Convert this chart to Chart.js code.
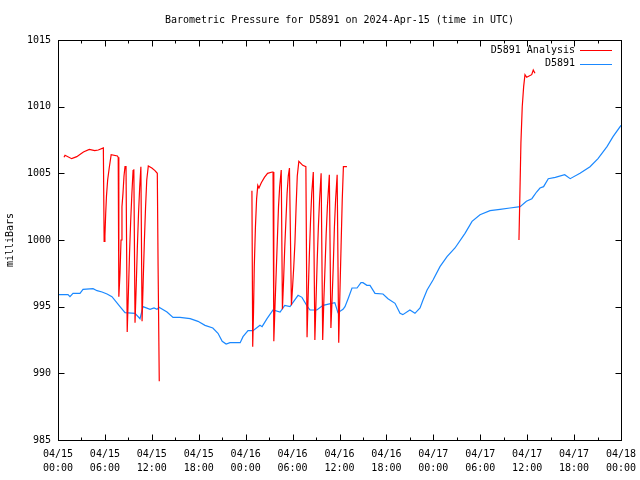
<!DOCTYPE html>
<html>
<head>
<meta charset="utf-8">
<script src="https://cdn.jsdelivr.net/npm/chart.js@4.4.1/dist/chart.umd.min.js"></script>
<style>
  body { margin: 0; background: #fff; }
  canvas { display: block; }
</style>
</head>
<body>
<canvas id="pressureChart" width="640" height="480"></canvas>
<script>
// hours since 2024-04-15 00:00 UTC
const chartTitle = 'Barometric Pressure for D5891 on 2024-Apr-15 (time in UTC)';
const tickLabels = [
    ['04/15', '00:00'], ['04/15', '06:00'], ['04/15', '12:00'], ['04/15', '18:00'],
    ['04/16', '00:00'], ['04/16', '06:00'], ['04/16', '12:00'], ['04/16', '18:00'],
    ['04/17', '00:00'], ['04/17', '06:00'], ['04/17', '12:00'], ['04/17', '18:00'],
    ['04/18', '00:00']
];

const buoyHours = [0, 0.77, 1.28, 1.53, 1.92, 2.81, 3.2, 4.48, 5.0, 5.63, 6.27, 6.9, 7.93, 8.57, 9.85,
    10.49, 10.87, 11.77, 12.28, 12.66, 12.92, 13.94, 14.71, 15.6, 16.9, 17.9, 18.8, 19.8, 20.46, 21.0,
    21.5, 22.0, 23.3, 23.66, 24.3, 24.94, 25.83, 26.1, 26.73, 27.5, 28.4, 29.0, 29.67, 30.7, 31.2,
    31.85, 32.23, 33.1, 33.9, 35.0, 35.4, 35.8, 36.45, 36.7, 37.1, 37.6, 38.24, 38.75, 39.0, 39.5,
    39.9, 40.54, 41.56, 42.2, 43.1, 43.74, 44.1, 45.0, 45.65, 46.3, 46.68, 47.2, 47.96, 48.85, 49.75,
    50.77, 52.05, 52.95, 53.97, 55.25, 56.53, 57.8, 59.1, 59.9, 60.6, 61.2, 61.64, 62.1, 62.7, 63.6,
    64.8, 65.5, 66.76, 68.04, 69.06, 70.21, 70.98, 72.0];
const buoyPressure = [995.9, 995.9, 995.9, 995.75, 996.0, 996.0, 996.3, 996.35, 996.2, 996.1, 995.95,
    995.75, 995.0, 994.55, 994.5, 994.1, 995.0, 994.8, 994.9, 994.8, 994.95, 994.6, 994.2, 994.2, 994.1,
    993.9, 993.6, 993.4, 993.0, 992.4, 992.2, 992.3, 992.3, 992.75, 993.2, 993.2, 993.6, 993.5, 994.1,
    994.75, 994.6, 995.1, 995.0, 995.85, 995.7, 995.05, 994.75, 994.75, 995.1, 995.25, 995.3, 994.55,
    994.8, 995.0, 995.6, 996.4, 996.4, 996.8, 996.8, 996.6, 996.6, 996.0, 995.95, 995.6, 995.25, 994.5,
    994.4, 994.75, 994.5, 994.9, 995.5, 996.25, 997.0, 998.0, 998.75, 999.4, 1000.5, 1001.4, 1001.9,
    1002.2, 1002.3, 1002.4, 1002.5, 1002.9, 1003.1, 1003.6, 1003.9, 1004.0, 1004.6, 1004.7, 1004.9,
    1004.6, 1005.0, 1005.5, 1006.1, 1007.0, 1007.75, 1008.6];

const analysisHours = [0.77, 0.9, 1.75, 2.4, 3.25, 4.0, 4.7, 5.15, 5.8, 5.9, 6.0, 6.1, 6.2, 6.35, 6.55,
    6.8, 7.6, 7.7, 7.78, 7.93, 8.06, 8.18, 8.31, 8.44, 8.57, 8.7, 8.85, 9.0, 9.15, 9.3, 9.45, 9.6, 9.7,
    9.85, 10.0, 10.15, 10.3, 10.45, 10.6, 10.75, 10.9, 11.05, 11.2, 11.35, 11.55, 12.0, 12.4, 12.7, 12.8,
    12.95, 18.0,
    24.8, 24.9, 25.0, 25.1, 25.25, 25.4, 25.55, 25.7, 26.0, 26.4, 26.8, 27.4, 27.5, 27.6, 27.75, 27.9,
    28.05, 28.2, 28.35, 28.55, 28.7, 28.85, 29.0, 29.15, 29.3, 29.45, 29.6, 29.85, 30.0, 30.15, 30.3,
    30.45, 30.6, 30.8, 31.3, 31.7, 31.85, 32.0, 32.15, 32.3, 32.45, 32.65, 32.85, 33.0, 33.15, 33.3,
    33.45, 33.65, 33.85, 34.0, 34.15, 34.3, 34.45, 34.7, 34.9, 35.05, 35.2, 35.35, 35.5, 35.7, 35.9,
    36.05, 36.2, 36.35, 36.5, 36.95, 48.0,
    58.95, 59.08, 59.2, 59.37, 59.55, 59.72, 59.94, 60.58, 60.78, 61.0];
const analysisPressure = [1006.2, 1006.35, 1006.1, 1006.25, 1006.6, 1006.8, 1006.7, 1006.75, 1006.9,
    999.9, 1000.3, 1002.0, 1003.3, 1004.5, 1005.4, 1006.4, 1006.3, 1006.2, 995.75, 997.5, 1000.0, 1002.5,
    1003.5, 1004.8, 1005.5, 1005.5, 993.1, 996.0, 999.0, 1001.5, 1003.5, 1005.2, 1005.3, 993.8, 996.5,
    999.5, 1002.0, 1004.0, 1005.5, 993.9, 997.0, 1000.0, 1002.5, 1004.5, 1005.55, 1005.4, 1005.2, 1005.0,
    998.0, 989.4, null,
    1003.7, 992.0, 994.5, 998.0, 1001.0, 1003.1, 1004.1, 1003.9, 1004.3, 1004.7, 1005.0, 1005.1, 1005.1,
    992.4, 995.0, 997.5, 1000.0, 1002.5, 1004.0, 1005.25, 994.8, 997.0, 999.5, 1001.5, 1003.5, 1004.8,
    1005.4, 995.1, 996.5, 998.0, 999.8, 1002.5, 1004.8, 1005.9, 1005.6, 1005.5, 992.7, 996.0, 999.0,
    1001.5, 1003.5, 1005.1, 992.5, 995.5, 998.5, 1001.0, 1003.0, 1005.0, 992.5, 995.5, 998.0, 1000.5,
    1002.5, 1004.9, 993.4, 995.5, 998.0, 1001.0, 1003.0, 1004.9, 992.3, 996.0, 999.5, 1003.0, 1005.5,
    1005.5, null,
    1000.0, 1003.75, 1007.25, 1010.0, 1011.5, 1012.4, 1012.2, 1012.4, 1012.75, 1012.5];

const FONT = 'DejaVu Sans Mono';

function toPoints(xs, ys) {
    return xs.map((x, i) => ({x: x, y: ys[i]}));
}

// gnuplot style title, frame, inward ticks and legend
const gnuplotFrame = {
    id: 'gnuplotFrame',
    afterDraw(chart) {
        const c = chart.ctx;
        const a = chart.chartArea;
        const xs = chart.scales.x;
        const ys = chart.scales.y;
        c.save();

        c.font = '10px "' + FONT + '"';
        c.fillStyle = '#000';
        c.textAlign = 'center';
        c.textBaseline = 'middle';
        c.fillText(chartTitle, (a.left + a.right) / 2, 20);

        c.strokeStyle = '#000';
        c.lineWidth = 1;
        const L = Math.round(a.left) + 0.5, R = Math.round(a.right) + 0.5;
        const T = Math.round(a.top) + 0.5, B = Math.round(a.bottom) + 0.5;
        c.strokeRect(L, T, R - L, B - T);
        c.beginPath();
        xs.ticks.forEach(t => {
            const px = Math.round(xs.getPixelForValue(t.value)) + 0.5;
            c.moveTo(px, B); c.lineTo(px, B - 6);
            c.moveTo(px, T); c.lineTo(px, T + 6);
            if (t.value + 3 < xs.max) {
                const mx = Math.round(xs.getPixelForValue(t.value + 3)) + 0.5;
                c.moveTo(mx, B); c.lineTo(mx, B - 3);
                c.moveTo(mx, T); c.lineTo(mx, T + 3);
            }
        });
        ys.ticks.forEach(t => {
            const py = Math.round(ys.getPixelForValue(t.value)) + 0.5;
            c.moveTo(L, py); c.lineTo(L + 6, py);
            c.moveTo(R, py); c.lineTo(R - 6, py);
        });
        c.stroke();

        c.textAlign = 'right';
        chart.data.datasets.forEach((ds, i) => {
            const y = a.top + 10 + i * 13.5;
            c.fillText(ds.label, a.right - 46, y);
            c.strokeStyle = ds.borderColor;
            c.beginPath();
            c.moveTo(a.right - 41, Math.round(y) + 0.5);
            c.lineTo(a.right - 9, Math.round(y) + 0.5);
            c.stroke();
        });
        c.restore();
    }
};

new Chart(document.getElementById('pressureChart'), {
    type: 'line',
    data: {
        datasets: [{
            label: 'D5891 Analysis',
            data: toPoints(analysisHours, analysisPressure),
            borderColor: '#ff0000',
            borderWidth: 1.2,
            pointRadius: 0,
            tension: 0,
            spanGaps: false
        }, {
            label: 'D5891',
            data: toPoints(buoyHours, buoyPressure),
            borderColor: '#1a88ff',
            borderWidth: 1.2,
            pointRadius: 0,
            tension: 0
        }]
    },
    options: {
        responsive: false,
        animation: false,
        devicePixelRatio: 1,
        layout: {padding: {left: 0, right: 19, top: 40, bottom: 0}},
        plugins: {
            legend: {display: false},
            tooltip: {enabled: false},
            title: {display: false}
        },
        scales: {
            x: {
                type: 'linear',
                min: 0,
                max: 72,
                grid: {display: false, drawTicks: false},
                border: {display: false},
                ticks: {
                    stepSize: 6,
                    autoSkip: false,
                    maxRotation: 0,
                    color: '#000',
                    padding: 7,
                    font: {family: FONT, size: 10, lineHeight: 1.4},
                    callback: (v, i) => tickLabels[i]
                },
                afterFit: s => {
                    s.height = 40;
                    s.paddingLeft = 0;
                    s.paddingRight = 0;
                }
            },
            y: {
                min: 985,
                max: 1015,
                grid: {display: false, drawTicks: false},
                border: {display: false},
                ticks: {
                    stepSize: 5,
                    color: '#000',
                    padding: 7,
                    font: {family: FONT, size: 10},
                    callback: v => String(v)
                },
                title: {
                    display: true,
                    text: 'milliBars',
                    color: '#000',
                    font: {family: FONT, size: 10},
                    padding: {top: 4, bottom: 0}
                },
                afterFit: s => { s.width = 58; }
            }
        }
    },
    plugins: [gnuplotFrame]
});
</script>
</body>
</html>
